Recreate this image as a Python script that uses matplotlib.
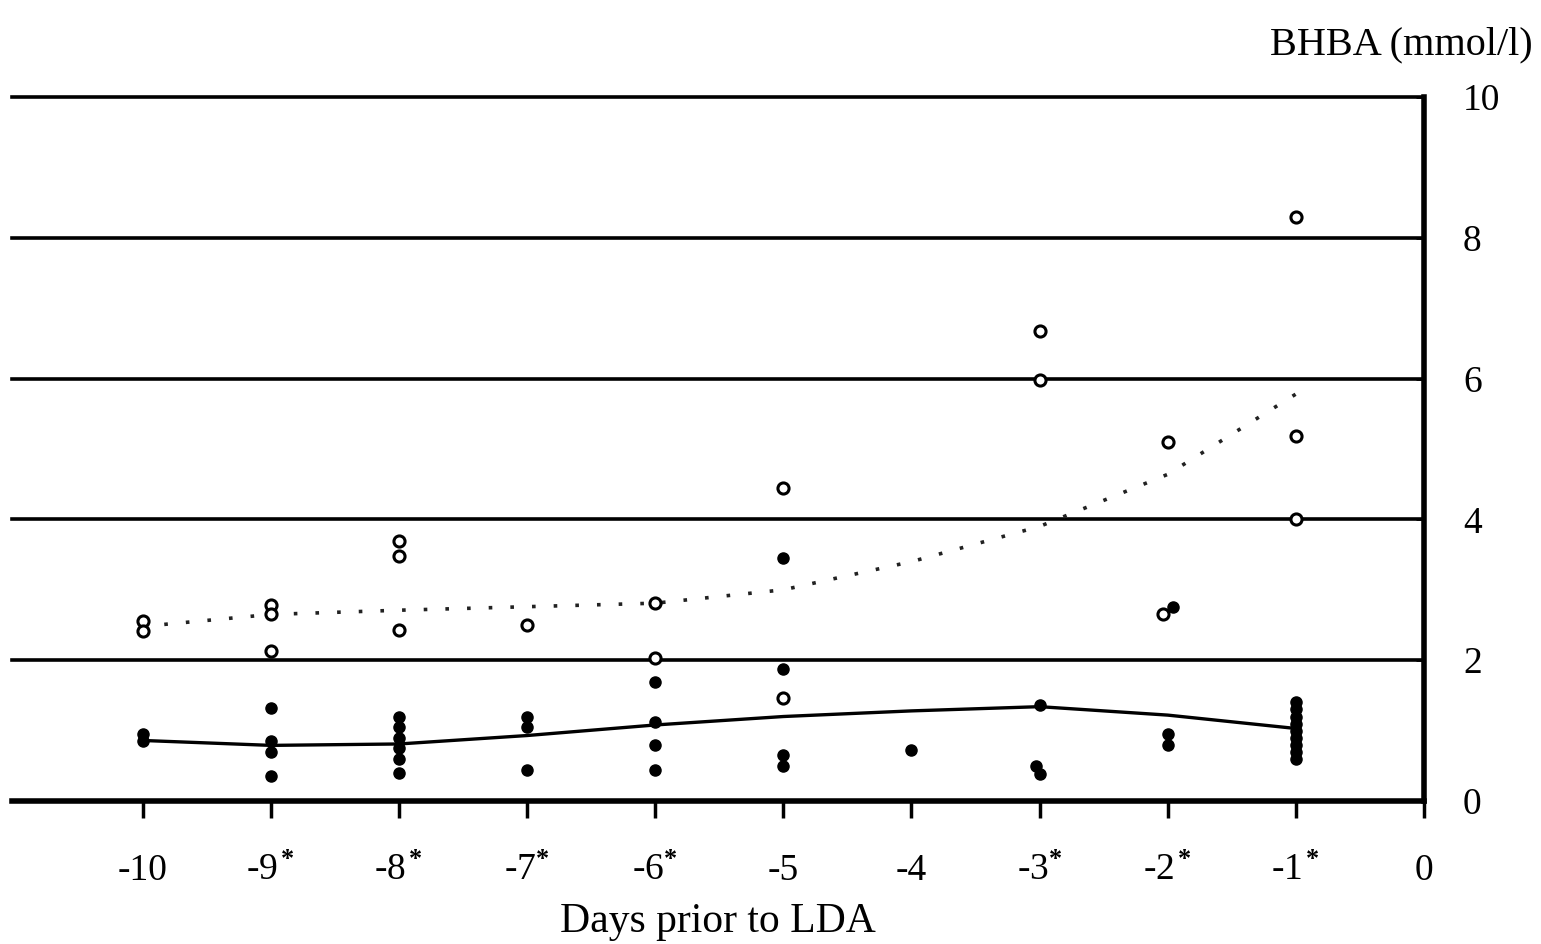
import matplotlib
matplotlib.use("Agg")
import matplotlib.pyplot as plt

# ---- data ----
days = [-10, -9, -8, -7, -6, -5, -4, -3, -2, -1]
tick_days = [-10, -9, -8, -7, -6, -5, -4, -3, -2, -1, 0]
tick_labels = ['-10', '-9$^{\\,\\mathbf{*}}$', '-8$^{\\,\\mathbf{*}}$', '-7$^{\\mathbf{*}}$',
               '-6$^{\\mathbf{*}}$', '-5', '-4', '-3$^{\\mathbf{*}}$', '-2$^{\\,\\mathbf{*}}$',
               '-1$^{\\,\\mathbf{*}}$', '0']

# mean curves
lda_mean = [2.48, 2.65, 2.71, 2.76, 2.81, 3.0, 3.4, 3.9, 4.64, 5.78]
ctrl_mean = [0.86, 0.79, 0.81, 0.93, 1.08, 1.2, 1.28, 1.34, 1.22, 1.03]

# open circles (LDA cows)
lda_x = [-10, -10, -9, -9, -9, -8, -8, -8, -7, -6, -6, -5, -5,
         -3, -3, -2, -2.04, -1, -1, -1]
lda_y = [2.55, 2.42, 2.78, 2.65, 2.13, 3.7, 3.48, 2.43, 2.5, 2.81, 2.03, 4.44, 1.46,
         6.68, 5.98, 5.1, 2.65, 8.29, 5.18, 4.0]

# filled dots (control cows)
ctrl_x = [-10, -10, -9, -9, -9, -9, -8, -8, -8, -8, -8, -8, -7, -7, -7,
          -6, -6, -6, -6, -5, -5, -5, -5, -4, -3, -3.03, -3,
          -2, -2, -1.96, -1, -1, -1, -1, -1, -1, -1, -1, -1]
ctrl_y = [0.95, 0.85, 1.32, 0.85, 0.7, 0.35, 1.2, 1.05, 0.9, 0.75, 0.6, 0.4, 1.2, 1.05, 0.44,
          1.69, 1.12, 0.8, 0.44, 3.45, 1.87, 0.65, 0.5, 0.72, 1.37, 0.5, 0.38,
          0.95, 0.8, 2.75, 1.4, 1.3, 1.2, 1.1, 1.0, 0.9, 0.8, 0.7, 0.6]

y_ticks = [0, 2, 4, 6, 8, 10]

plt.rcParams['font.family'] = ['Liberation Serif', 'DejaVu Serif']
plt.rcParams['mathtext.fontset'] = 'custom'
plt.rcParams['mathtext.rm'] = 'Liberation Serif'
plt.rcParams['mathtext.it'] = 'Liberation Serif'
plt.rcParams['mathtext.bf'] = 'Liberation Serif:bold'

fig = plt.figure(figsize=(15.41, 9.44), dpi=100)
ax = fig.add_axes([12/1541, 1-801/944, (1424-12)/1541, (801-97)/944])

# gridlines
for v in y_ticks[1:]:
    ax.axhline(v, color='black', lw=2.6, zorder=1, clip_on=False)

ax.plot(days, ctrl_mean, color='black', lw=2.4, zorder=2)
ax.plot(days, lda_mean, color='#222222', lw=2.6, linestyle=(0, (1, 5)), zorder=2)

ax.plot(ctrl_x, ctrl_y, 'o', color='black', markersize=8, zorder=3)
ax.plot(lda_x, lda_y, 'o', markerfacecolor='white', markeredgecolor='black',
        markeredgewidth=2.2, markersize=8, zorder=3)

ax.set_xlim(-11.02, 0)
ax.set_ylim(0, 10)

ax.spines['left'].set_visible(False)
ax.spines['top'].set_visible(False)
ax.spines['bottom'].set_linewidth(4)
ax.spines['right'].set_linewidth(4)

ax.set_xticks(tick_days)
ax.set_xticklabels(tick_labels)
ax.tick_params(axis='x', direction='out', length=12, width=2.5, pad=26, labelsize=27)

ax.yaxis.tick_right()
ax.set_yticks(y_ticks)
ax.set_yticklabels([str(v) for v in y_ticks])
ax.tick_params(axis='y', direction='in', length=6, width=2, pad=28, labelsize=27)

ax.set_xlabel('Days prior to LDA', fontsize=30, labelpad=10)
fig.text(1533/1541, 1-45/944, 'BHBA (mmol/l)', ha='right', va='center', fontsize=29)

fig.savefig('out.png', dpi=100)
